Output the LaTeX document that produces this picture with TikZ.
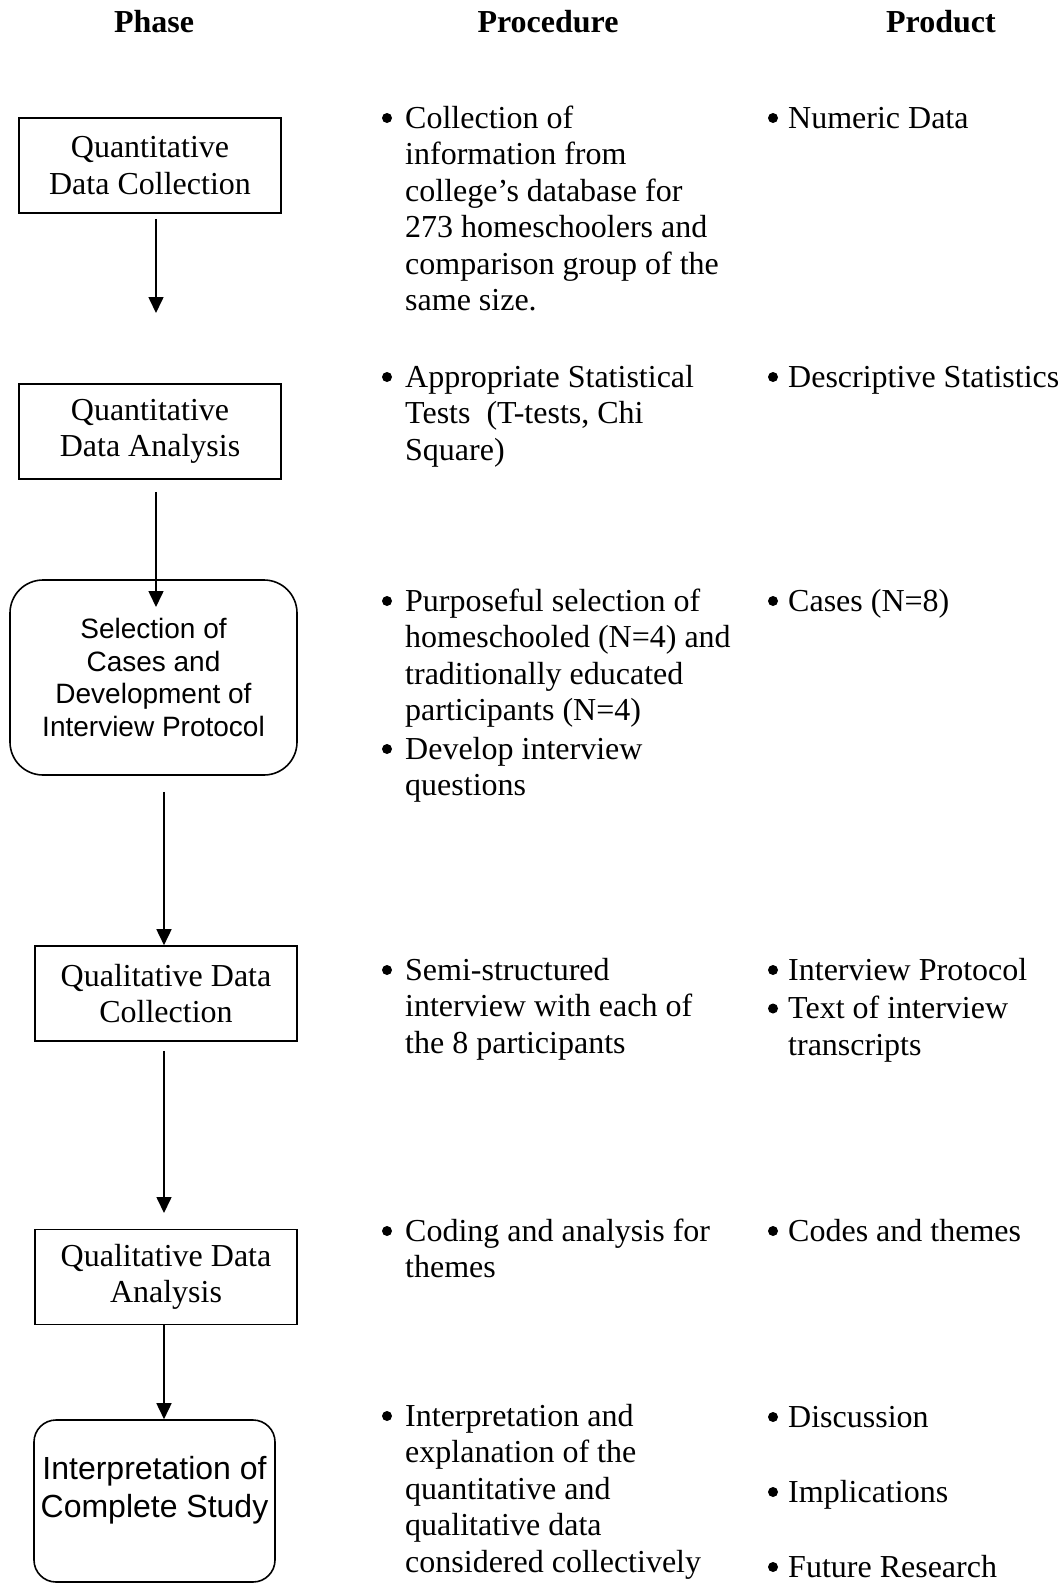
\documentclass[tikz,border=0pt]{standalone}
\usepackage{fontspec}
\setmainfont{Liberation Serif}
\setsansfont{Liberation Sans}
\usetikzlibrary{arrows.meta}

\tikzset{
  head/.style={anchor=base, inner sep=0pt, font=\bfseries\fontsize{32}{36.5}\selectfont},
  phasebox/.style={draw, line width=1.6pt, minimum width=262pt, minimum height=95pt,
    inner sep=0pt, align=center, font=\fontsize{32}{36.5}\selectfont},
  roundbox/.style={draw, line width=1.6pt, rounded corners=#1, inner sep=0pt, align=center},
  dot/.style={circle, fill, inner sep=0pt, minimum size=10pt, yshift=10pt},
  item/.style={anchor=north west, yshift=25.55pt, inner sep=0pt, align=left,
    font=\fontsize{32}{36.5}\selectfont},
  flow/.style={line width=1.6pt, -{Triangle[length=16pt,width=15pt]}}
}

\begin{document}
\begin{tikzpicture}[x=1pt,y=1pt]
  \useasboundingbox (0,0) rectangle (1061,-1585);

  % column heads
  \node[head] (hphase) at (154,-32) {Phase};
  \node[head] (hproc) at (548,-32) {Procedure};
  \node[head] (hprod) at (941,-32) {Product};

  % phases
  \node[phasebox] (qndc) at (150,-165.5) {Quantitative\\Data Collection};
  \node[phasebox] (qnda) at (150,-431.5) {Quantitative\\Data Analysis};
  \node[roundbox=33pt, minimum width=287pt, minimum height=195pt,
    font=\sffamily\fontsize{28}{32.5}\selectfont] (cases) at (153.5,-677.5)
    {Selection of\\Cases and\\Development of\\Interview Protocol};
  \node[phasebox] (qldc) at (166,-993.5) {Qualitative Data\\Collection};
  \node[phasebox] (qlda) at (166,-1277) {Qualitative Data\\Analysis};
  \node[roundbox=22pt, minimum width=241pt, minimum height=162pt] (interp) at (154.5,-1501) {};
  \node[align=center, inner sep=0pt, font=\sffamily\fontsize{32}{37.5}\selectfont]
    (interptxt) at (154.5,-1490) {Interpretation of\\Complete Study};

  % arrows
  \coordinate (a1) at (156,-313);
  \coordinate (a2) at (156,-607);
  \coordinate (a4) at (164,-1213);
  \draw[flow] ([yshift=-5pt]qndc.south -| a1) -- (a1);
  \draw[flow] ([yshift=-12pt]qnda.south -| a2) -- (a2);
  \draw[flow] ([yshift=-16pt]cases.south -| a4) -- (a4 |- qldc.north);
  \draw[flow] ([yshift=-9pt]qldc.south -| a4) -- (a4);
  \draw[flow] (qlda.south -| a4) -- (a4 |- interp.north);

  % procedure
  \node[dot] (pd1) at (387,-128) {};
  \node[item] (pt1) at (405,-128) {\strut Collection of\\information from\\college’s database for\\273 homeschoolers and\\comparison group of the\\same size.};
  \node[dot] (pd2) at (387,-387) {};
  \node[item] (pt2) at (405,-387) {\strut Appropriate Statistical\\Tests\ \ (T-tests, Chi\\Square)};
  \node[dot] (pd3) at (387,-611) {};
  \node[item] (pt3) at (405,-611) {\strut Purposeful selection of\\homeschooled (N=4) and\\traditionally educated\\participants (N=4)};
  \node[dot] (pd4) at (387,-759) {};
  \node[item] (pt4) at (405,-759) {\strut Develop interview\\questions};
  \node[dot] (pd5) at (387,-980) {};
  \node[item] (pt5) at (405,-980) {\strut Semi-structured\\interview with each of\\the 8 participants};
  \node[dot] (pd6) at (387,-1241) {};
  \node[item] (pt6) at (405,-1241) {\strut Coding and analysis for\\themes};
  \node[dot] (pd7) at (387,-1426) {};
  \node[item] (pt7) at (405,-1426) {\strut Interpretation and\\explanation of the\\quantitative and\\qualitative data\\considered collectively};

  % product
  \node[dot] (rd1) at (773,-128) {};
  \node[item] (rt1) at (788,-128) {\strut Numeric Data};
  \node[dot] (rd2) at (773,-387) {};
  \node[item] (rt2) at (788,-387) {\strut Descriptive Statistics};
  \node[dot] (rd3) at (773,-611) {};
  \node[item] (rt3) at (788,-611) {\strut Cases (N=8)};
  \node[dot] (rd4) at (773,-980) {};
  \node[item] (rt4) at (788,-980) {\strut Interview Protocol};
  \node[dot] (rd5) at (773,-1018.5) {};
  \node[item] (rt5) at (788,-1018.5) {\strut Text of interview\\transcripts};
  \node[dot] (rd6) at (773,-1241) {};
  \node[item] (rt6) at (788,-1241) {\strut Codes and themes};
  \node[dot] (rd7) at (773,-1427) {};
  \node[item] (rt7) at (788,-1427) {\strut Discussion};
  \node[dot] (rd8) at (773,-1502) {};
  \node[item] (rt8) at (788,-1502) {\strut Implications};
  \node[dot] (rd9) at (773,-1577) {};
  \node[item] (rt9) at (788,-1577) {\strut Future Research};
\end{tikzpicture}
\end{document}
